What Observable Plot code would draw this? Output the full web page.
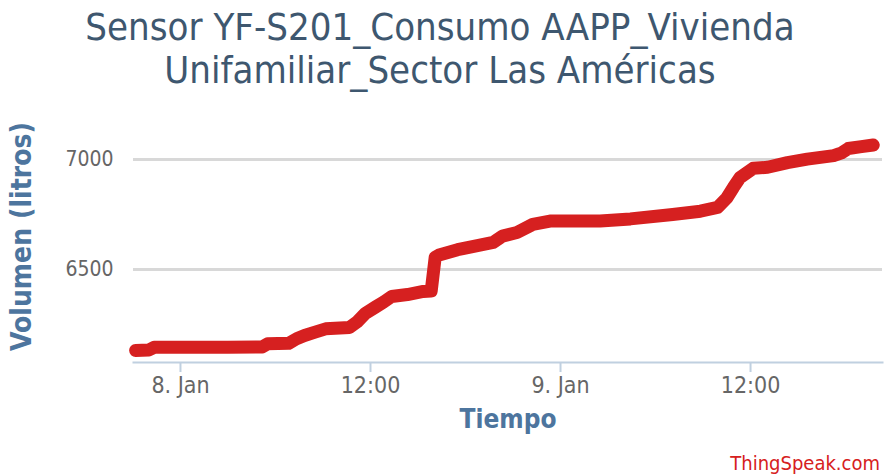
<!DOCTYPE html>
<html><head><meta charset="utf-8">
<script src="https://cdn.jsdelivr.net/npm/d3@7"></script>
<script src="https://cdn.jsdelivr.net/npm/@observablehq/plot@0.6"></script>
<style>
body{margin:0;background:#fff;width:886px;height:476px;overflow:hidden;position:relative;font-family:"Liberation Sans Narrow","DejaVu Sans Condensed",sans-serif;}
#title{height:100px;text-align:center;color:#3E576F;font-size:38px;line-height:43px;padding-top:6px;padding-right:6px;box-sizing:border-box;}
#credit{position:absolute;right:6px;top:451px;color:#d62020;font-size:20px;}
</style></head><body>
<div id="title">Sensor YF-S201_Consumo AAPP_Vivienda<br>Unifamiliar_Sector Las Américas</div>
<div id="chart"></div>
<div id="credit">ThingSpeak.com</div>
<script>
const times = [
"2018-01-07T21:10Z","2018-01-07T22:00Z","2018-01-07T22:20Z","2018-01-08T03:00Z","2018-01-08T05:10Z",
"2018-01-08T05:30Z","2018-01-08T06:50Z","2018-01-08T07:20Z","2018-01-08T07:50Z","2018-01-08T08:30Z",
"2018-01-08T09:10Z","2018-01-08T10:40Z","2018-01-08T11:10Z","2018-01-08T11:40Z","2018-01-08T12:20Z",
"2018-01-08T12:50Z","2018-01-08T13:20Z","2018-01-08T14:20Z","2018-01-08T15:20Z","2018-01-08T15:50Z",
"2018-01-08T16:05Z","2018-01-08T16:20Z","2018-01-08T17:30Z","2018-01-08T18:45Z","2018-01-08T19:45Z",
"2018-01-08T20:20Z","2018-01-08T21:15Z","2018-01-08T22:15Z","2018-01-08T23:20Z","2018-01-09T02:30Z",
"2018-01-09T04:25Z","2018-01-09T07:05Z","2018-01-09T08:50Z","2018-01-09T09:55Z","2018-01-09T10:30Z",
"2018-01-09T10:55Z","2018-01-09T11:20Z","2018-01-09T12:10Z","2018-01-09T13:05Z","2018-01-09T14:20Z",
"2018-01-09T15:35Z","2018-01-09T17:15Z","2018-01-09T17:45Z","2018-01-09T18:10Z","2018-01-09T19:00Z",
"2018-01-09T19:45Z"];
const volumes = [
6132,6134,6146,6146,6148,
6162,6164,6185,6200,6215,
6230,6236,6262,6300,6330,
6352,6377,6386,6400,6402,
6555,6566,6590,6608,6623,
6652,6668,6705,6720,6720,
6730,6750,6765,6782,6825,
6873,6918,6960,6965,6986,
7002,7018,7030,7050,7059,
7066];
const xTicks = ["2018-01-08T00:00Z","2018-01-08T12:00Z","2018-01-09T00:00Z","2018-01-09T12:00Z"];
const yTicks = [6500, 7000];
const xDomain = ["2018-01-07T21:02Z","2018-01-09T20:20Z"];
const yDomain = [6077, 7223];

const data = times.map((t, i) => ({t: new Date(t), v: volumes[i]}));
const tickDates = xTicks.map(d => new Date(d));
const fmt = d => d.getUTCHours() === 0 ? `${d.getUTCDate()}. Jan` : d3.utcFormat("%H:%M")(d);
const font = '"Liberation Sans Narrow","DejaVu Sans Condensed",sans-serif';

const chart = Plot.plot({
  width: 886, height: 350,
  marginLeft: 133, marginRight: 4, marginTop: 10, marginBottom: 88,
  style: {fontFamily: font, background: "white", overflow: "visible"},
  x: {type: "utc", domain: xDomain.map(d => new Date(d)), label: null},
  y: {domain: yDomain, label: null},
  marks: [
    Plot.gridY(yTicks, {stroke: "#d8d8d8", strokeOpacity: 1, strokeWidth: 3}),
    Plot.axisY(yTicks, {tickSize: 0, tickPadding: 20, tickFormat: d => String(d), fill: "#666", fontSize: 21, label: null}),
    Plot.frame({anchor: "bottom", stroke: "#c0d0e0", strokeWidth: 2}),
    Plot.axisX(tickDates, {tickFormat: fmt, tickSize: 10, tickPadding: 4, stroke: "#c0d0e0", strokeWidth: 2, fill: "#666", fontSize: 23, label: null}),
    Plot.line(data, {x: "t", y: "v", stroke: "#d62020", strokeWidth: 13, strokeLinecap: "round", strokeLinejoin: "round"}),
    Plot.text(["Volumen (litros)"], {frameAnchor: "left", textAnchor: "middle", dx: -111, rotate: -90, fontWeight: "bold", fontSize: 28, fill: "#4d759e"}),
    Plot.text(["Tiempo"], {frameAnchor: "bottom", dy: 65, fontWeight: "bold", fontSize: 26, fill: "#4d759e"})
  ]
});
document.getElementById("chart").append(chart);
</script>
</body></html>
